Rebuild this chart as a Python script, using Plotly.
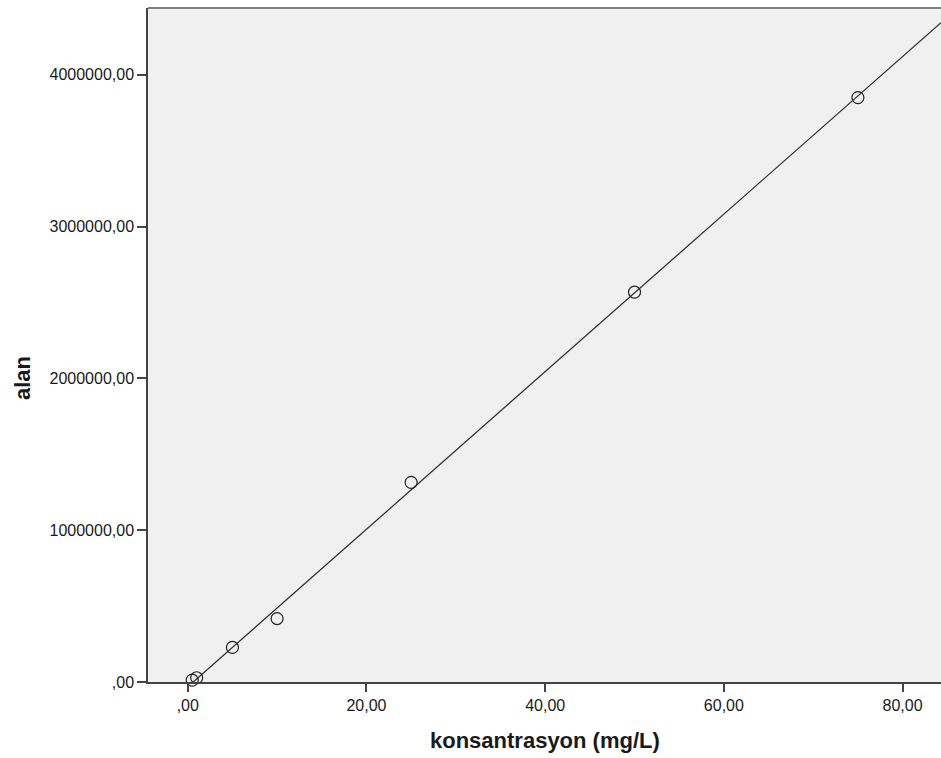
import numpy as np
import plotly.graph_objects as go

konsantrasyon = [0.5, 1, 5, 10, 25, 50, 75]
alan = [12000, 28000, 228000, 418000, 1315000, 2568000, 3850000]

x_tickvals = [0, 20, 40, 60, 80]
x_ticktext = [",00", "20,00", "40,00", "60,00", "80,00"]
y_tickvals = [0, 1000000, 2000000, 3000000, 4000000]
y_ticktext = [",00", "1000000,00", "2000000,00", "3000000,00", "4000000,00"]

x_range = [-4.45, 84.3]
y_range = [0, 4440000]

slope, intercept = np.polyfit(konsantrasyon, alan, 1)
fit_x = [min(konsantrasyon), x_range[1]]
fit_y = [slope * v + intercept for v in fit_x]

fig = go.Figure()
fig.add_trace(go.Scatter(x=fit_x, y=fit_y, mode="lines",
                         line=dict(color="#333333", width=1.3),
                         showlegend=False, hoverinfo="skip"))
fig.add_trace(go.Scatter(x=konsantrasyon, y=alan, mode="markers",
                         marker=dict(symbol="circle-open", size=12,
                                     color="#222222", line=dict(width=1.2)),
                         cliponaxis=False, showlegend=False))

font = dict(family="Liberation Sans, Arial, sans-serif", color="#1a1a1a")
fig.update_layout(
    width=941, height=758,
    margin=dict(l=148, r=0, t=8, b=76),
    paper_bgcolor="white", plot_bgcolor="#F0F0F0",
    font=dict(size=16, **font),
    xaxis=dict(range=x_range, tickvals=x_tickvals, ticktext=x_ticktext,
               showgrid=False, zeroline=False, showline=True,
               linecolor="#444444", linewidth=1.5, ticks="outside",
               ticklen=8, tickwidth=1.5, tickcolor="#444444",
               tickfont=dict(size=16, **font)),
    yaxis=dict(range=y_range, tickvals=y_tickvals, ticktext=y_ticktext,
               showgrid=False, zeroline=False, showline=True,
               linecolor="#444444", linewidth=1.5, ticks="outside",
               ticklen=9, tickwidth=1.5, tickcolor="#444444",
               tickfont=dict(size=16, **font)),
    shapes=[dict(type="line", xref="paper", yref="paper", x0=0, x1=1, y0=1, y1=1,
                 line=dict(color="#808080", width=2))],
    annotations=[
        dict(text="<b>konsantrasyon (mg/L)</b>", xref="paper", yref="paper",
             x=(545 - 148) / 793, y=-(740 - 682) / 674, xanchor="center", yanchor="middle",
             showarrow=False, font=dict(size=22, **font)),
        dict(text="<b>alan</b>", xref="paper", yref="paper",
             x=-(148 - 22) / 793, y=(682 - 378) / 674, xanchor="center", yanchor="middle",
             textangle=-90, showarrow=False, font=dict(size=22, **font)),
    ],
)
fig.write_html("out.html")
